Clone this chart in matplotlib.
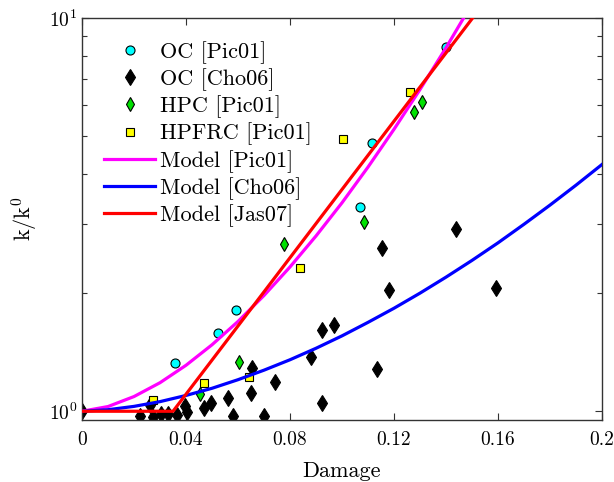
import numpy as np
import matplotlib
matplotlib.use("Agg")
import matplotlib.pyplot as plt
from matplotlib.ticker import LogLocator, NullFormatter

# Computer Modern look
plt.rcParams["font.family"] = "serif"
plt.rcParams["font.serif"] = ["cmr10"]
plt.rcParams["mathtext.fontset"] = "cm"
plt.rcParams["axes.formatter.use_mathtext"] = True

# Measured data (damage, k/k0)
oc_pic01_d = [0.0358, 0.0523, 0.0592, 0.1069, 0.1115, 0.1400]
oc_pic01_k = [1.326, 1.58, 1.81, 3.31, 4.80, 8.43]

oc_cho06_d = [0.0, 0.0223, 0.0262, 0.0273, 0.0304, 0.0331, 0.0365, 0.0396, 0.0404,
              0.0469, 0.0496, 0.0562, 0.0581, 0.0650, 0.0654, 0.0700, 0.0742, 0.0879,
              0.0924, 0.0970, 0.0924, 0.1136, 0.1153, 0.1181, 0.1437, 0.1591]
oc_cho06_k = [1.0, 0.971, 1.036, 0.965, 0.983, 0.983, 0.980, 1.030, 0.994,
              1.018, 1.051, 1.081, 0.974, 1.111, 1.285, 0.974, 1.184, 1.371,
              1.609, 1.657, 1.051, 1.277, 2.60, 2.035, 2.908, 2.06]

hpc_pic01_d = [0.0454, 0.0604, 0.0778, 0.1086, 0.1277, 0.1307]
hpc_pic01_k = [1.105, 1.331, 2.67, 3.03, 5.75, 6.10]

hpfrc_pic01_d = [0.0274, 0.0469, 0.0644, 0.0837, 0.1003, 0.1263]
hpfrc_pic01_k = [1.067, 1.177, 1.223, 2.31, 4.92, 6.48]

# Model curves
model_pic01_d = [0.0, 0.01, 0.02, 0.03, 0.04, 0.05, 0.06, 0.07, 0.08,
                 0.09, 0.10, 0.11, 0.12, 0.13, 0.14, 0.15, 0.16]
model_pic01_k = [1.0, 1.028, 1.090, 1.182, 1.309, 1.476, 1.692, 1.970, 2.328,
                 2.791, 3.390, 4.178, 5.213, 6.58, 8.40, 10.87, 14.2]

model_cho06_d = [0.0, 0.01, 0.02, 0.03, 0.04, 0.05, 0.06, 0.07, 0.08, 0.09, 0.10,
                 0.11, 0.12, 0.13, 0.14, 0.15, 0.16, 0.17, 0.18, 0.19, 0.20]
model_cho06_k = [1.0, 1.009, 1.029, 1.058, 1.097, 1.144, 1.203, 1.272, 1.352, 1.446, 1.555,
                 1.683, 1.828, 1.997, 2.193, 2.419, 2.681, 2.989, 3.344, 3.758, 4.242]

model_jas07_d = [0.0, 0.035, 0.155]
model_jas07_k = [1.0, 1.0, 11.0]

fig = plt.figure(figsize=(6.14, 4.82), dpi=100)
ax = fig.add_axes([0.1336, 0.1286, 0.8469, 0.8341])

# Data points
ax.plot(oc_pic01_d, oc_pic01_k, "o", color="#00ffff", mec="black", mew=0.8, ms=6.5, label="OC [Pic01]")
ax.plot(oc_cho06_d, oc_cho06_k, "d", color="black", mec="black", mew=0.8, ms=8, label="OC [Cho06]")
ax.plot(hpc_pic01_d, hpc_pic01_k, "d", color="#00e000", mec="black", mew=0.8, ms=7, label="HPC [Pic01]")
ax.plot(hpfrc_pic01_d, hpfrc_pic01_k, "s", color="#ffff00", mec="black", mew=0.8, ms=5.5, label="HPFRC [Pic01]")

# Models
ax.plot(model_pic01_d, model_pic01_k, color="#ff00ff", lw=2.3, zorder=3, label="Model [Pic01]")
ax.plot(model_cho06_d, model_cho06_k, color="#0000ff", lw=2.3, zorder=3, label="Model [Cho06]")
ax.plot(model_jas07_d, model_jas07_k, color="#ff0000", lw=2.3, zorder=3, label="Model [Jas07]")

ax.set_yscale("log")
ax.set_xlim(0, 0.2)
ax.set_ylim(0.95, 10)
ax.set_xticks([0, 0.04, 0.08, 0.12, 0.16, 0.2])
ax.set_xticklabels(["0", "0.04", "0.08", "0.12", "0.16", "0.2"])
ax.yaxis.set_major_locator(LogLocator(base=10))
ax.yaxis.set_minor_locator(LogLocator(base=10, subs=np.arange(2, 10)))
ax.yaxis.set_minor_formatter(NullFormatter())

ax.tick_params(which="both", direction="in", top=True, right=True, labelsize=14, colors="#333333", labelcolor="black")
ax.tick_params(which="major", length=5, width=0.8)
ax.tick_params(which="minor", length=3.5, width=0.8)
ax.tick_params(axis="x", pad=8)
for s in ax.spines.values():
    s.set_color("#333333")
    s.set_linewidth(1.0)

ax.set_xlabel("Damage", fontsize=16, labelpad=9)
ax.set_ylabel(r"$\mathrm{k/k^0}$", fontsize=16, labelpad=6)

ax.legend(loc="upper left", bbox_to_anchor=(0.0085, 0.987), frameon=False, fontsize=16,
          handlelength=2.3, handletextpad=0.2, labelspacing=0.2, borderpad=0.3)

fig.savefig("out.png", dpi=100)
